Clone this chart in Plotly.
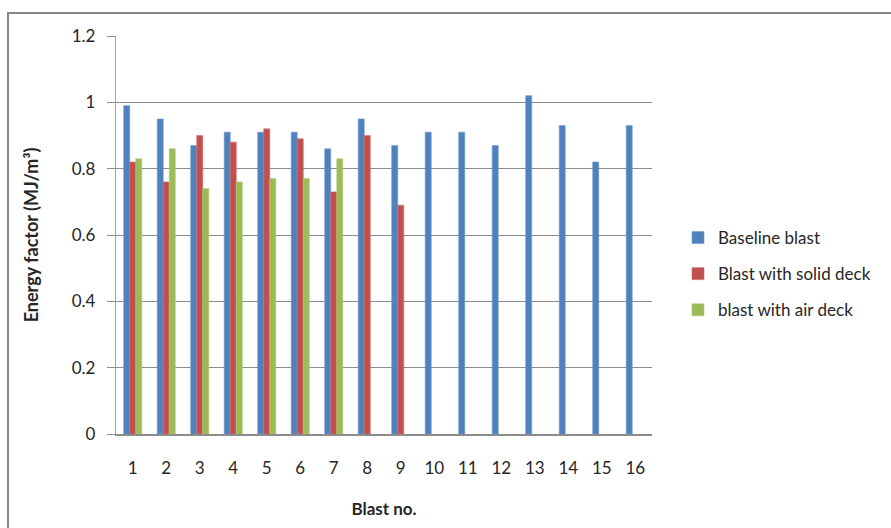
import plotly.graph_objects as go

# Blast energy factors
blast_no = [str(i) for i in range(1, 17)]
baseline = [0.99, 0.95, 0.87, 0.91, 0.91, 0.91, 0.86, 0.95, 0.87,
            0.91, 0.91, 0.87, 1.02, 0.93, 0.82, 0.93]
solid_deck = [0.82, 0.76, 0.90, 0.88, 0.92, 0.89, 0.73, 0.90, 0.69,
              None, None, None, None, None, None, None]
air_deck = [0.83, 0.86, 0.74, 0.76, 0.77, 0.77, 0.83,
            None, None, None, None, None, None, None, None, None]
y_ticks = [0, 0.2, 0.4, 0.6, 0.8, 1.0, 1.2]
y_tick_text = ["0", "0.2", "0.4", "0.6", "0.8", "1", "1.2"]

W, H = 891, 528
L, R, T, B = 116, 652, 36, 434  # plot area in pixels

FONT = "Lato, 'Open Sans', sans-serif"
GRID = "#8c8c8c"

fig = go.Figure()
for i, (name, vals, color, edge) in enumerate([
    ("Baseline blast", baseline, "#4f81bd", "#6f99cc"),
    ("Blast with solid deck", solid_deck, "#c0504d", "#d06c69"),
    ("blast with air deck", air_deck, "#9bbb59", "#afcc73"),
]):
    fig.add_trace(go.Bar(
        x=blast_no, y=vals, name=name, legendgroup=f"g{i}",
        marker=dict(color=color, line=dict(color=edge, width=0.6)),
    ))

def px_x(px):
    return (px - L) / (R - L)

def px_y(py):
    return (B - py) / (B - T)

fig.update_layout(
    width=W, height=H,
    margin=dict(l=L, r=W - R, t=T, b=H - B, autoexpand=False),
    paper_bgcolor="white", plot_bgcolor="white",
    barmode="group", bargap=0.46, bargroupgap=0,
    font=dict(family=FONT, size=17, color="#262626"),
    xaxis=dict(
        type="category", showgrid=False,
        showline=True, linecolor=GRID, linewidth=1.5,
        ticks="", ticklabelstandoff=18,
        tickfont=dict(size=17),
        title=dict(text="<b>Blast no.</b>", font=dict(size=17), standoff=26),
    ),
    yaxis=dict(
        range=[0, 1.2], tickvals=y_ticks, ticktext=y_tick_text,
        showgrid=True, gridcolor=GRID, gridwidth=1.3,
        showline=True, linecolor="#a6a6a6", linewidth=1.3,
        ticks="outside", ticklen=8, tickcolor=GRID,
        ticklabelstandoff=8,
        tickfont=dict(size=17), zeroline=False,
        title=dict(text="<b>Energy factor (MJ/m³)</b>", font=dict(size=18), standoff=28),
    ),
    legend=dict(
        x=px_x(678), y=px_y(220), xanchor="left", yanchor="top",
        font=dict(size=17), itemwidth=30, tracegroupgap=11,
        bgcolor="rgba(0,0,0,0)",
    ),
    shapes=[dict(
        type="rect", xref="paper", yref="paper",
        x0=px_x(8), x1=px_x(900), y0=px_y(540), y1=px_y(13),
        line=dict(color="#868686", width=2), fillcolor="rgba(0,0,0,0)",
        layer="below",
    )],
)

fig.write_html("out.html")
